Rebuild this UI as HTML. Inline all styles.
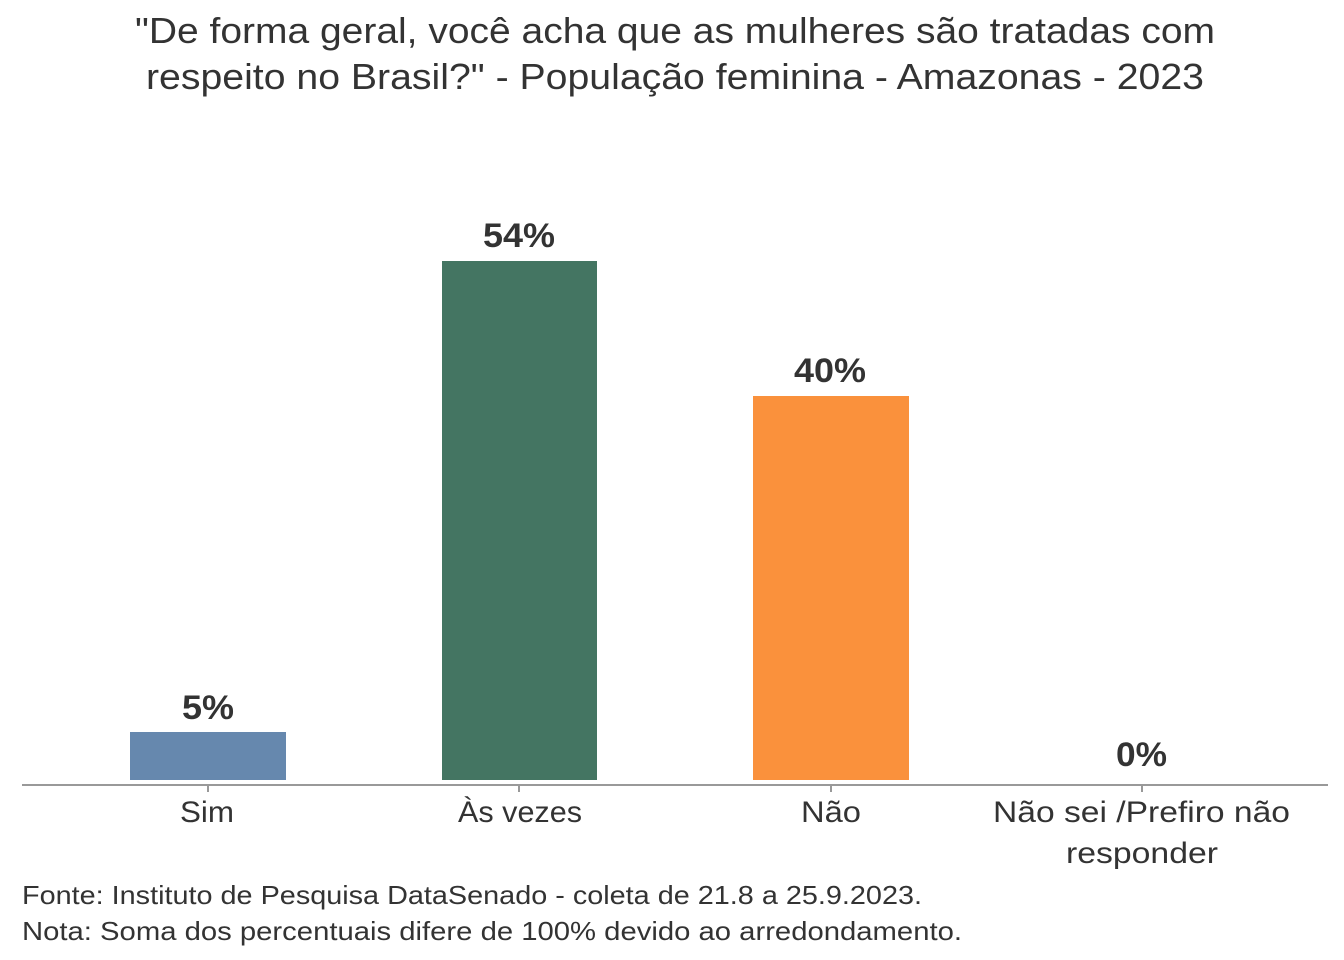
<!DOCTYPE html>
<html><head><meta charset="utf-8"><style>
body{margin:0;background:#fff;}
svg{display:block}
</style></head><body>
<svg width="1344" height="960" xmlns="http://www.w3.org/2000/svg" font-family="Liberation Sans, sans-serif">
<text x="135" y="43" font-size="36" fill="#333" textLength="1080" lengthAdjust="spacingAndGlyphs">"De forma geral, você acha que as mulheres são tratadas com</text>
<text x="146" y="89" font-size="36" fill="#333" textLength="1058" lengthAdjust="spacingAndGlyphs">respeito no Brasil?" - População feminina - Amazonas - 2023</text>
<rect x="130" y="732" width="156" height="48" fill="#6688ae"/>
<rect x="442" y="261" width="155" height="519" fill="#447562"/>
<rect x="753" y="396" width="156" height="384" fill="#fa913c"/>
<line x1="22" y1="785" x2="1328" y2="785" stroke="#999" stroke-width="2"/>
<g stroke="#999" stroke-width="2"><line x1="208" y1="785" x2="208" y2="792"/><line x1="519" y1="785" x2="519" y2="792"/><line x1="831" y1="785" x2="831" y2="792"/><line x1="1142" y1="785" x2="1142" y2="792"/></g>
<g font-size="34" font-weight="bold" fill="#333" lengthAdjust="spacingAndGlyphs">
<text x="182" y="719" textLength="52" lengthAdjust="spacingAndGlyphs">5%</text>
<text x="483" y="247" textLength="72" lengthAdjust="spacingAndGlyphs">54%</text>
<text x="794" y="382" textLength="72" lengthAdjust="spacingAndGlyphs">40%</text>
<text x="1116" y="766" textLength="51" lengthAdjust="spacingAndGlyphs">0%</text></g>
<g font-size="30" fill="#333">
<text x="180" y="822" textLength="54" lengthAdjust="spacingAndGlyphs">Sim</text>
<text x="458" y="822" textLength="124" lengthAdjust="spacingAndGlyphs">Às vezes</text>
<text x="801" y="822" textLength="60" lengthAdjust="spacingAndGlyphs">Não</text>
<text x="993" y="822" textLength="297" lengthAdjust="spacingAndGlyphs">Não sei /Prefiro não</text>
<text x="1066" y="863" textLength="152" lengthAdjust="spacingAndGlyphs">responder</text></g>
<g font-size="26" fill="#333">
<text x="22" y="904" textLength="900" lengthAdjust="spacingAndGlyphs">Fonte: Instituto de Pesquisa DataSenado - coleta de 21.8 a 25.9.2023.</text>
<text x="22" y="940" textLength="940" lengthAdjust="spacingAndGlyphs">Nota: Soma dos percentuais difere de 100% devido ao arredondamento.</text></g>
</svg>
</body></html>
